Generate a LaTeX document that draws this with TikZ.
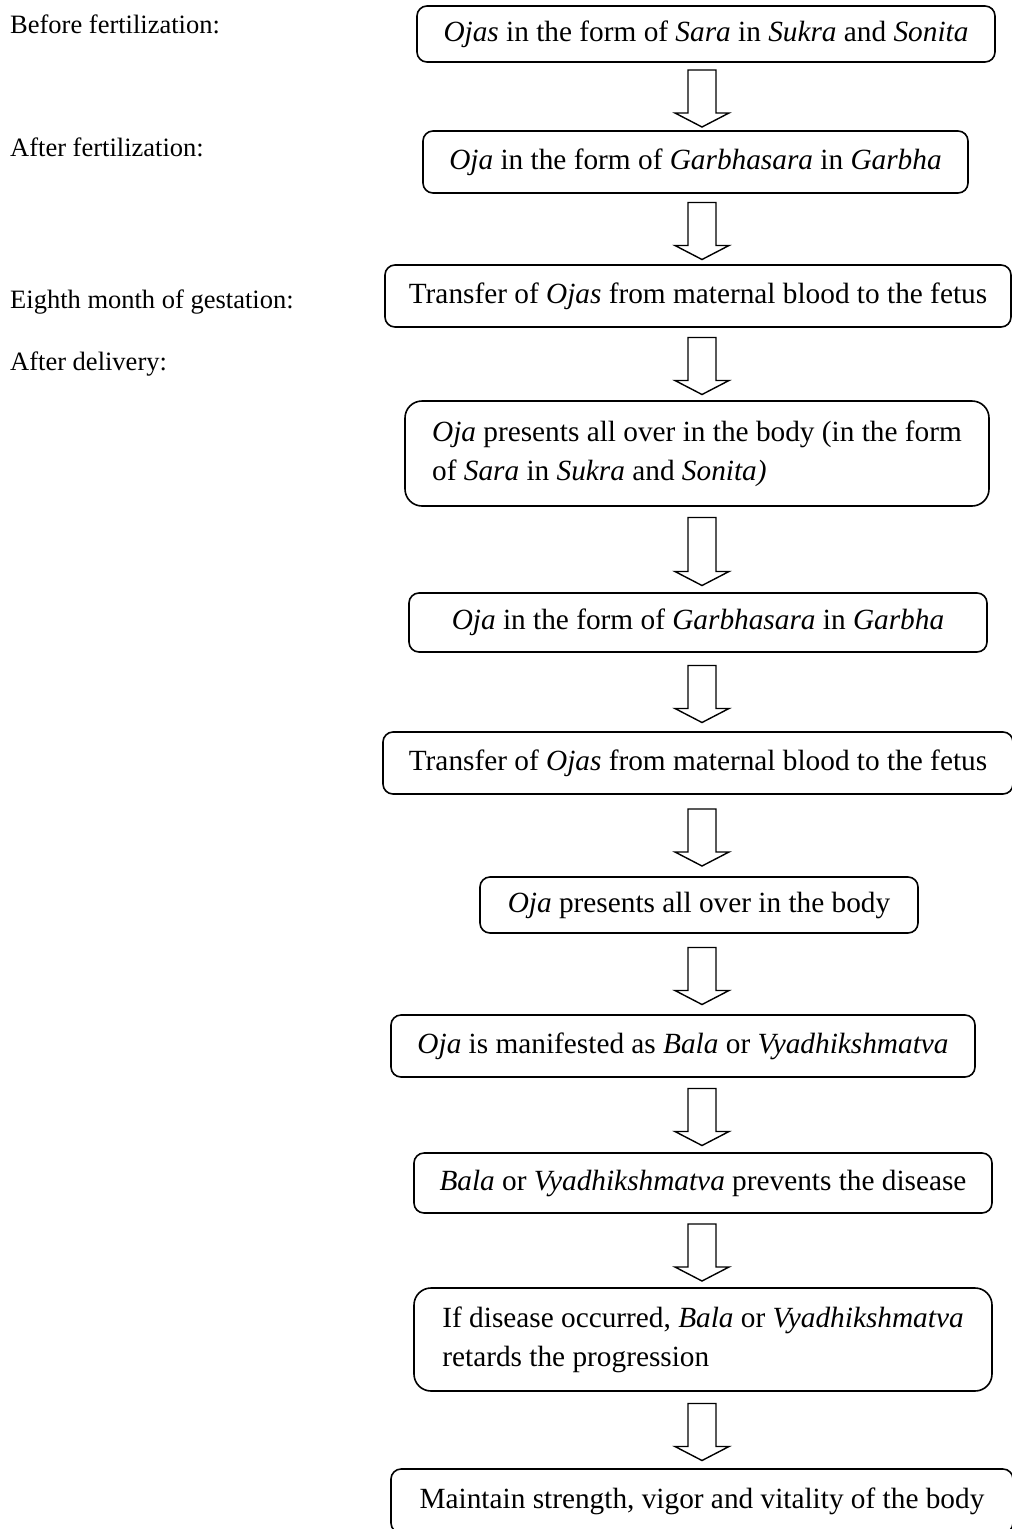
\documentclass[tikz,border=0pt]{standalone}
\usepackage{fontspec}
\setmainfont{Liberation Serif}
\usetikzlibrary{calc}
\newcommand{\hollowdown}[3][28.5]{%
  \coordinate (m) at ($(#2.south -| axis)!0.5!(#3.north -| axis)+(0,2)$);
  \draw[hollow] ([shift={(-14,-#1)}]m) -- ([shift={(-14,#1-14)}]m)
    -- ([shift={(-27,#1-14)}]m) -- ([shift={(0,#1)}]m)
    -- ([shift={(27,#1-14)}]m) -- ([shift={(14,#1-14)}]m)
    -- ([shift={(14,-#1)}]m) -- cycle;}

\begin{document}
\begin{tikzpicture}[
  x=1pt,y=-1pt,
  stage/.style={draw,line width=1.6pt,rounded corners=10pt,inner sep=0pt,
    align=center,font=\fontsize{29.3}{39}\selectfont},
  tall/.style={stage,rounded corners=17pt,align=left},
  period/.style={anchor=base west,inner sep=0pt,font=\fontsize{26.5}{32}\selectfont},
  hollow/.style={draw,line width=1.4pt,fill=white,line join=miter}
]
\useasboundingbox (0,0) rectangle (1012,1529);
\coordinate (axis) at (702,0);
\node[period] (l1) at (10,33) {Before fertilization:};
\node[period] (l2) at (10,156) {After fertilization:};
\node[period] (l3) at (10,308) {Eighth month of gestation:};
\node[period] (l4) at (10,370) {After delivery:};
\node[stage,minimum width=578,minimum height=56] (s1) at (706,34)
  {\textit{Ojas} in the form of \textit{Sara} in \textit{Sukra} and \textit{Sonita}};
\node[stage,minimum width=545,minimum height=62] (s2) at (695.5,162)
  {\textit{Oja} in the form of \textit{Garbhasara} in \textit{Garbha}};
\node[stage,minimum width=626,minimum height=62] (s3) at (698,296)
  {Transfer of \textit{Ojas} from maternal blood to the fetus};
\node[tall,minimum width=584,minimum height=105] (s4) at (697,453.5)
  {\textit{Oja} presents all over in the body (in the form\\of \textit{Sara} in \textit{Sukra} and \textit{Sonita)}};
\node[stage,minimum width=578,minimum height=59] (s5) at (698,622.5)
  {\textit{Oja} in the form of \textit{Garbhasara} in \textit{Garbha}};
\node[stage,minimum width=630,minimum height=62] (s6) at (698,763)
  {Transfer of \textit{Ojas} from maternal blood to the fetus};
\node[stage,minimum width=438,minimum height=56] (s7) at (699,905)
  {\textit{Oja} presents all over in the body};
\node[stage,minimum width=584,minimum height=62] (s8) at (683,1046)
  {\textit{Oja} is manifested as \textit{Bala} or \textit{Vyadhikshmatva}};
\node[stage,minimum width=578,minimum height=60] (s9) at (703,1183)
  {\textit{Bala} or \textit{Vyadhikshmatva} prevents the disease};
\node[tall,minimum width=578,minimum height=103] (s10) at (703,1339.5)
  {If disease occurred, \textit{Bala} or \textit{Vyadhikshmatva}\\retards the progression};
\node[stage,minimum width=622,minimum height=64] (s11) at (702,1501)
  {Maintain strength, vigor and vitality of the body};
\hollowdown{s1}{s2}
\hollowdown{s2}{s3}
\hollowdown{s3}{s4}
\hollowdown[34]{s4}{s5}
\hollowdown{s5}{s6}
\hollowdown{s6}{s7}
\hollowdown{s7}{s8}
\hollowdown{s8}{s9}
\hollowdown{s9}{s10}
\hollowdown{s10}{s11}
\end{tikzpicture}
\end{document}
